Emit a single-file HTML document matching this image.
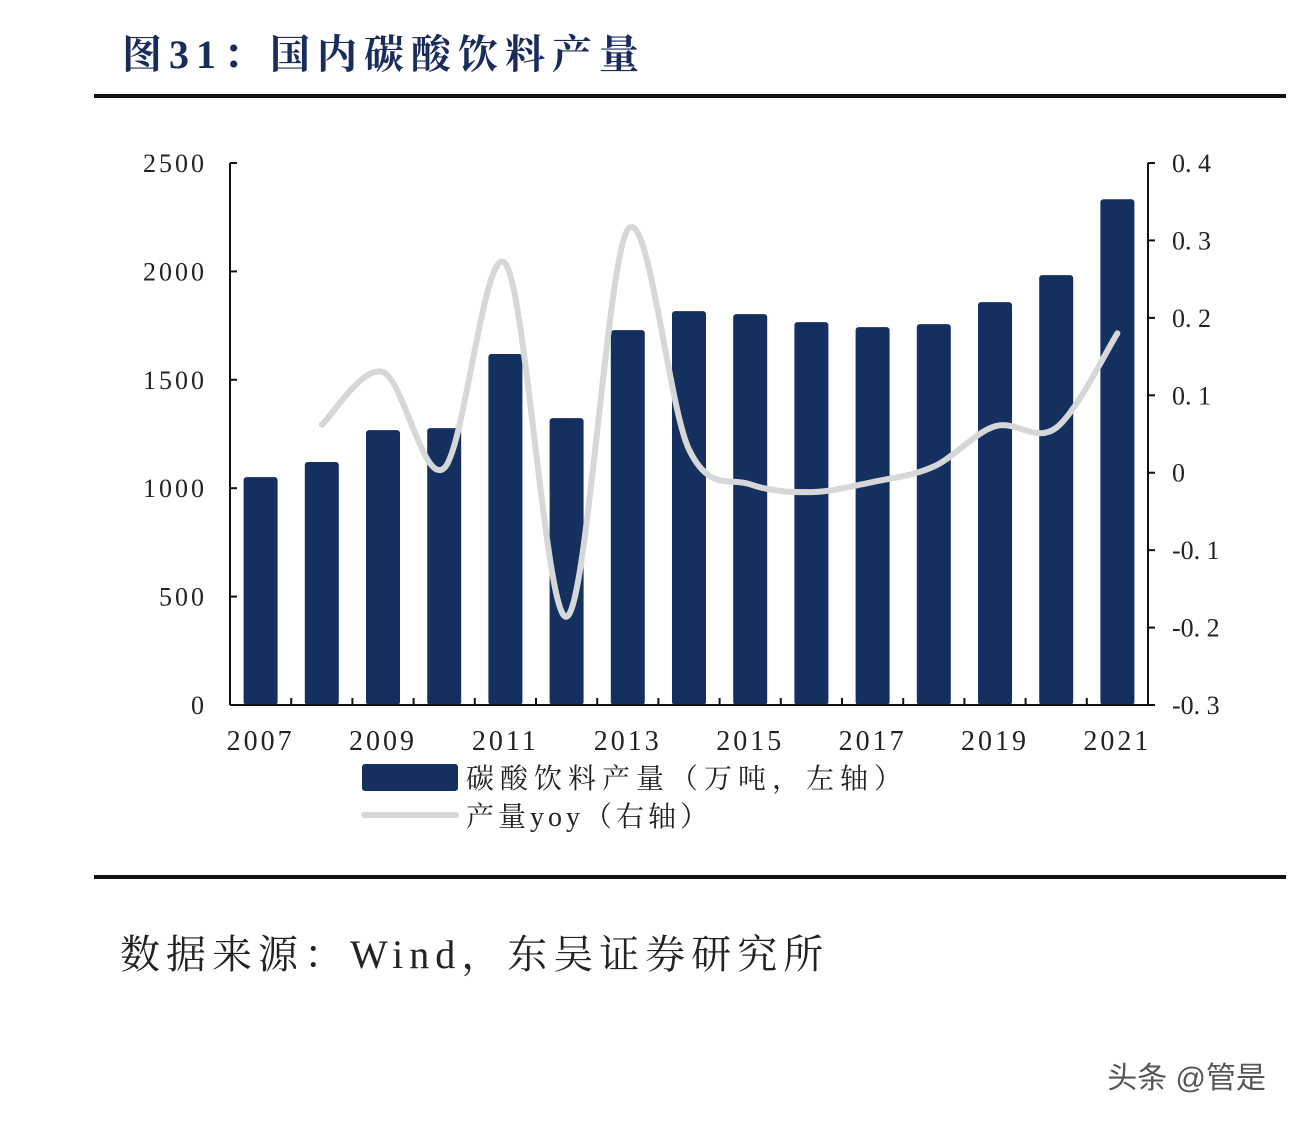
<!DOCTYPE html>
<html><head><meta charset="utf-8">
<style>
body{margin:0;background:#fff;width:1296px;height:1122px;overflow:hidden;}
svg{display:block}
</style></head>
<body>
<svg width="1296" height="1122" xmlns="http://www.w3.org/2000/svg" font-family="'Liberation Serif','Noto Serif CJK SC',serif">
<text x="122" y="68" font-size="40" font-weight="bold" fill="#1a2c5b" letter-spacing="7">图31：国内碳酸饮料产量</text>
<rect x="94" y="94" width="1192" height="4" fill="#111"/>
<rect x="94" y="875" width="1192" height="4" fill="#111"/>
<text x="120" y="968" font-size="40" fill="#222" letter-spacing="6">数据来源：Wind，东吴证券研究所</text>
<text x="1266" y="1088" font-size="30" fill="#555" text-anchor="end" font-family="'Liberation Sans','Noto Sans CJK SC',sans-serif">头条 @管是</text>
<g id="plot"></g>
<g>
<rect x="362" y="764" width="96" height="27" rx="3" fill="#14305f"/>
<text x="466" y="788" font-size="28" fill="#222" letter-spacing="6">碳酸饮料产量（万吨，左轴）</text>
<line x1="364" y1="815" x2="456" y2="815" stroke="#d6d7d9" stroke-width="6" stroke-linecap="round"/>
<text x="466" y="826" font-size="28" fill="#222" letter-spacing="4">产量yoy（右轴）</text>
</g>
</svg>
<script>
const years=[2007,2008,2009,2010,2011,2012,2013,2014,2015,2016,2017,2018,2019,2020,2021];
const production=[1051,1121,1268,1277,1619,1323,1729,1817,1803,1766,1743,1757,1858,1983,2333];
const yoy=[null,0.062,0.13,0.006,0.27,-0.186,0.314,0.03,-0.015,-0.025,-0.012,0.008,0.06,0.058,0.18];
const leftTicks=[0,500,1000,1500,2000,2500];
const rightTicks=[0.4,0.3,0.2,0.1,0,-0.1,-0.2,-0.3];
const rightTickLabels=['0. 4','0. 3','0. 2','0. 1','0','-0. 1','-0. 2','-0. 3'];
const xLabelYears=[2007,2009,2011,2013,2015,2017,2019,2021];

const NS='http://www.w3.org/2000/svg';
const g=document.getElementById('plot');
const X0=230,X1=1148,Y0=705,Y1=163;
const step=(X1-X0)/years.length;
const xc=i=>X0+step*(i+0.5);
const yL=v=>Y0-(v/2500)*(Y0-Y1);
const yR=v=>Y0-((v+0.3)/0.7)*(Y0-Y1);
function mk(t,a){const e=document.createElementNS(NS,t);for(const k in a)e.setAttribute(k,a[k]);g.appendChild(e);return e;}

production.forEach((v,i)=>{
 const r=mk('rect',{x:xc(i)-17,y:yL(v),width:34,height:Y0-yL(v),rx:3,fill:'#14305f'});
 
 
});
let a=mk('line',{x1:X0,y1:Y1,x2:X0,y2:Y0,stroke:'#111','stroke-width':2});


a=mk('line',{x1:X1,y1:Y1,x2:X1,y2:Y0,stroke:'#111','stroke-width':2});


a=mk('line',{x1:X0,y1:Y0,x2:X1,y2:Y0,stroke:'#111','stroke-width':2});


for(let i=1;i<years.length;i++){mk('line',{x1:X0+step*i,y1:Y0,x2:X0+step*i,y2:Y0-7,stroke:'#111','stroke-width':2});}
leftTicks.forEach(v=>{
 mk('line',{x1:X0,y1:yL(v),x2:X0+7,y2:yL(v),stroke:'#111','stroke-width':2});
 const t=mk('text',{x:207,y:yL(v)+9,'font-size':26,'text-anchor':'end',fill:'#222','letter-spacing':'3'});
 t.textContent=String(v);
 
 
});
rightTicks.forEach((v,i)=>{
 mk('line',{x1:X1,y1:yR(v),x2:X1+7,y2:yR(v),stroke:'#111','stroke-width':2});
 const t=mk('text',{x:1172,y:yR(v)+9,'font-size':26,fill:'#222'});
 t.textContent=rightTickLabels[i];
 
 
});
xLabelYears.forEach(y=>{
 const i=years.indexOf(y);
 const t=mk('text',{x:xc(i),y:750,'font-size':28,'text-anchor':'middle',fill:'#222','letter-spacing':'3'});
 t.textContent=String(y);
 
 
});
const pts=[];yoy.forEach((v,i)=>{if(v!==null)pts.push([xc(i),yR(v)]);});
let d='M'+pts[0][0]+','+pts[0][1];
for(let i=0;i<pts.length-1;i++){
 const p0=pts[Math.max(i-1,0)],p1=pts[i],p2=pts[i+1],p3=pts[Math.min(i+2,pts.length-1)];
 const c1=[p1[0]+(p2[0]-p0[0])/6,p1[1]+(p2[1]-p0[1])/6];
 const c2=[p2[0]-(p3[0]-p1[0])/6,p2[1]-(p3[1]-p1[1])/6];
 d+=' C'+c1+' '+c2+' '+p2;
}
const ln=mk('path',{d:d,fill:'none',stroke:'#d6d7d9','stroke-width':6,'stroke-linecap':'round'});


</script>
</body></html>
